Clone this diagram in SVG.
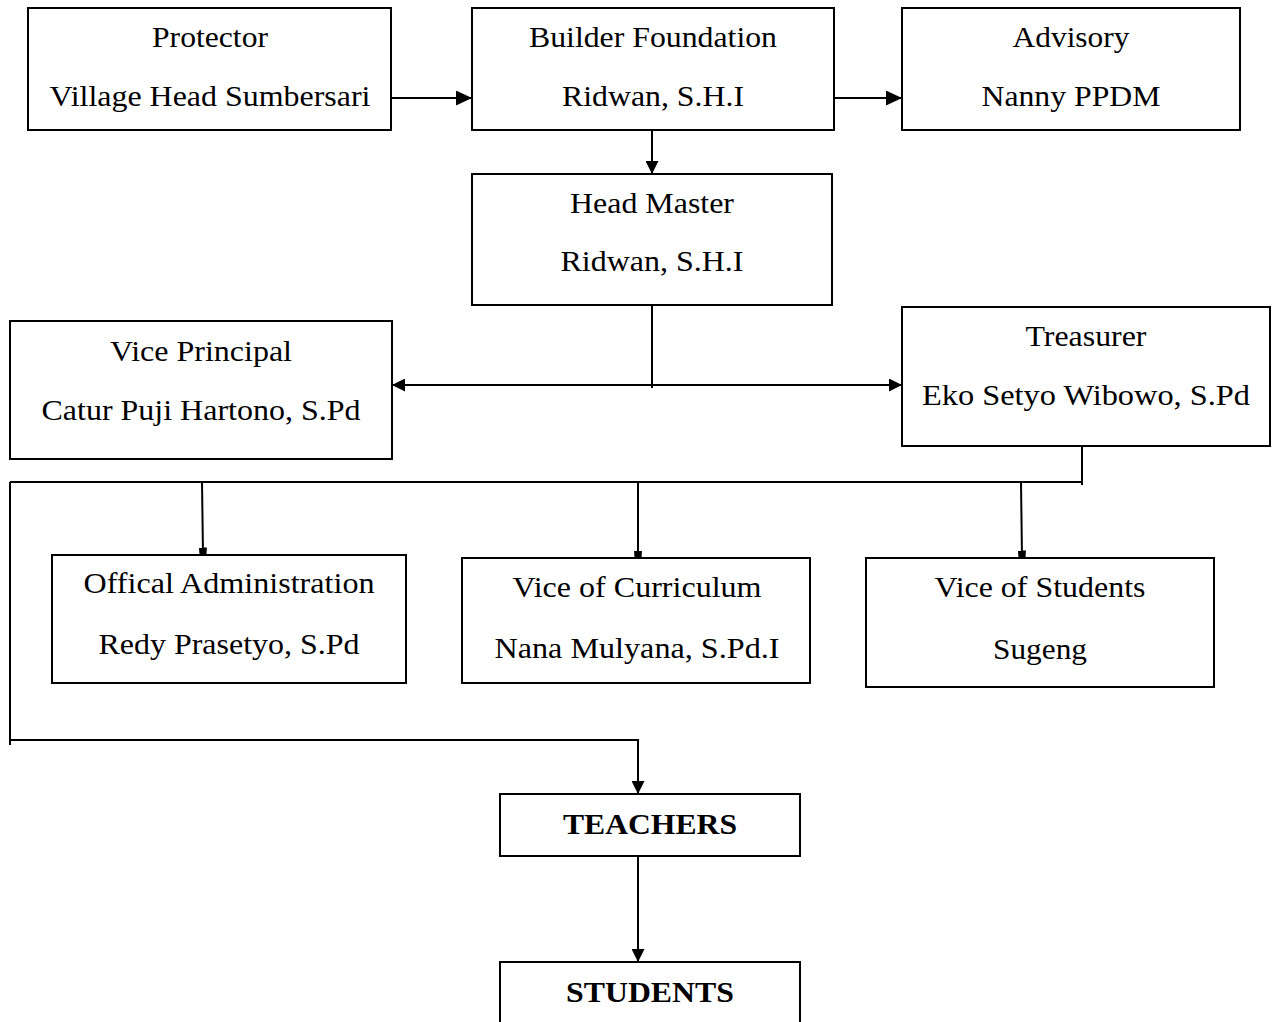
<svg xmlns="http://www.w3.org/2000/svg" width="1279" height="1022" viewBox="0 0 1279 1022">
<style>
.box{fill:#fff;stroke:#000;stroke-width:2}
.t{font-family:"Liberation Serif","Times New Roman",serif;font-size:29px;fill:#000;text-anchor:middle}
.b{font-weight:bold}
.c{fill:none;stroke:#000;stroke-width:2}
</style>
<defs>
<marker id="ahs" markerWidth="16" markerHeight="15" refX="15" refY="7.5" orient="auto-start-reverse" markerUnits="userSpaceOnUse" viewBox="0 0 16 15">
<path d="M0,0 L16,7.5 L0,15 Z" fill="#000"/>
</marker>
<marker id="ahm" markerWidth="13" markerHeight="13" refX="12" refY="6.5" orient="auto-start-reverse" markerUnits="userSpaceOnUse" viewBox="0 0 13 13">
<path d="M0,0 L13,6.5 L0,13 Z" fill="#000"/>
</marker>
<marker id="ahsm" markerWidth="7" markerHeight="8" refX="6.5" refY="4" orient="auto" markerUnits="userSpaceOnUse" viewBox="0 0 7 8">
<path d="M0,0 L7,0.5 L7,7.5 L0,8 Z" fill="#000"/>
</marker>
</defs>
<rect width="1279" height="1022" fill="#fff"/>
<g id="connectors">
<line class="c" x1="391" y1="98" x2="471" y2="98" marker-end="url(#ahs)"/>
<line class="c" x1="834" y1="98" x2="901" y2="98" marker-end="url(#ahs)"/>
<line class="c" x1="652" y1="122" x2="652" y2="173" marker-end="url(#ahm)"/>
<line class="c" x1="652" y1="297" x2="652" y2="388"/>
<line class="c" x1="393" y1="385" x2="901" y2="385" marker-start="url(#ahm)" marker-end="url(#ahm)"/>
<polyline class="c" points="1082,446 1082,485"/>
<line class="c" x1="10" y1="482" x2="1083" y2="482"/>
<line class="c" x1="202" y1="482" x2="203" y2="554" marker-end="url(#ahsm)"/>
<line class="c" x1="638" y1="482" x2="638" y2="557" marker-end="url(#ahsm)"/>
<line class="c" x1="1021" y1="482" x2="1022" y2="557" marker-end="url(#ahsm)"/>
<line class="c" x1="10" y1="482" x2="10" y2="745"/>
<polyline class="c" points="10,740 638,740 638,793" marker-end="url(#ahm)"/>
<line class="c" x1="638" y1="856" x2="638" y2="961" marker-end="url(#ahm)"/>
<circle cx="916" cy="97" r="0.7" fill="#000"/>
</g>
<g id="protector"><rect class="box" x="28" y="8" width="363" height="122"/><text class="t" x="210" y="47" textLength="116" lengthAdjust="spacingAndGlyphs">Protector</text><text class="t" x="210" y="106" textLength="321" lengthAdjust="spacingAndGlyphs">Village Head Sumbersari</text></g>
<g id="builder"><rect class="box" x="472" y="8" width="362" height="122"/><text class="t" x="653" y="47" textLength="248" lengthAdjust="spacingAndGlyphs">Builder Foundation</text><text class="t" x="653" y="106" textLength="182" lengthAdjust="spacingAndGlyphs">Ridwan, S.H.I</text></g>
<g id="advisory"><rect class="box" x="902" y="8" width="338" height="122"/><text class="t" x="1071" y="47" textLength="117" lengthAdjust="spacingAndGlyphs">Advisory</text><text class="t" x="1071" y="106" textLength="179" lengthAdjust="spacingAndGlyphs">Nanny PPDM</text></g>
<g id="headmaster"><rect class="box" x="472" y="174" width="360" height="131"/><text class="t" x="652" y="213" textLength="164" lengthAdjust="spacingAndGlyphs">Head Master</text><text class="t" x="652" y="271" textLength="183" lengthAdjust="spacingAndGlyphs">Ridwan, S.H.I</text></g>
<g id="viceprincipal"><rect class="box" x="10" y="321" width="382" height="138"/><text class="t" x="201" y="361" textLength="182" lengthAdjust="spacingAndGlyphs">Vice Principal</text><text class="t" x="201" y="420" textLength="319" lengthAdjust="spacingAndGlyphs">Catur Puji Hartono, S.Pd</text></g>
<g id="treasurer"><rect class="box" x="902" y="307" width="368" height="139"/><text class="t" x="1086" y="346" textLength="121" lengthAdjust="spacingAndGlyphs">Treasurer</text><text class="t" x="1086" y="405" textLength="328" lengthAdjust="spacingAndGlyphs">Eko Setyo Wibowo, S.Pd</text></g>
<g id="admin"><rect class="box" x="52" y="555" width="354" height="128"/><text class="t" x="229" y="593" textLength="291" lengthAdjust="spacingAndGlyphs">Offical Administration</text><text class="t" x="229" y="654" textLength="261" lengthAdjust="spacingAndGlyphs">Redy Prasetyo, S.Pd</text></g>
<g id="curriculum"><rect class="box" x="462" y="558" width="348" height="125"/><text class="t" x="637" y="597" textLength="249" lengthAdjust="spacingAndGlyphs">Vice of Curriculum</text><text class="t" x="637" y="658" textLength="285" lengthAdjust="spacingAndGlyphs">Nana Mulyana, S.Pd.I</text></g>
<g id="students-vice"><rect class="box" x="866" y="558" width="348" height="129"/><text class="t" x="1040" y="597" textLength="211" lengthAdjust="spacingAndGlyphs">Vice of Students</text><text class="t" x="1040" y="659" textLength="94" lengthAdjust="spacingAndGlyphs">Sugeng</text></g>
<g id="teachers"><rect class="box" x="500" y="794" width="300" height="62"/><text class="t b" x="650" y="834" textLength="174" lengthAdjust="spacingAndGlyphs">TEACHERS</text></g>
<g id="students"><rect class="box" x="500" y="962" width="300" height="70"/><text class="t b" x="650" y="1002" textLength="168" lengthAdjust="spacingAndGlyphs">STUDENTS</text></g>
</svg>
